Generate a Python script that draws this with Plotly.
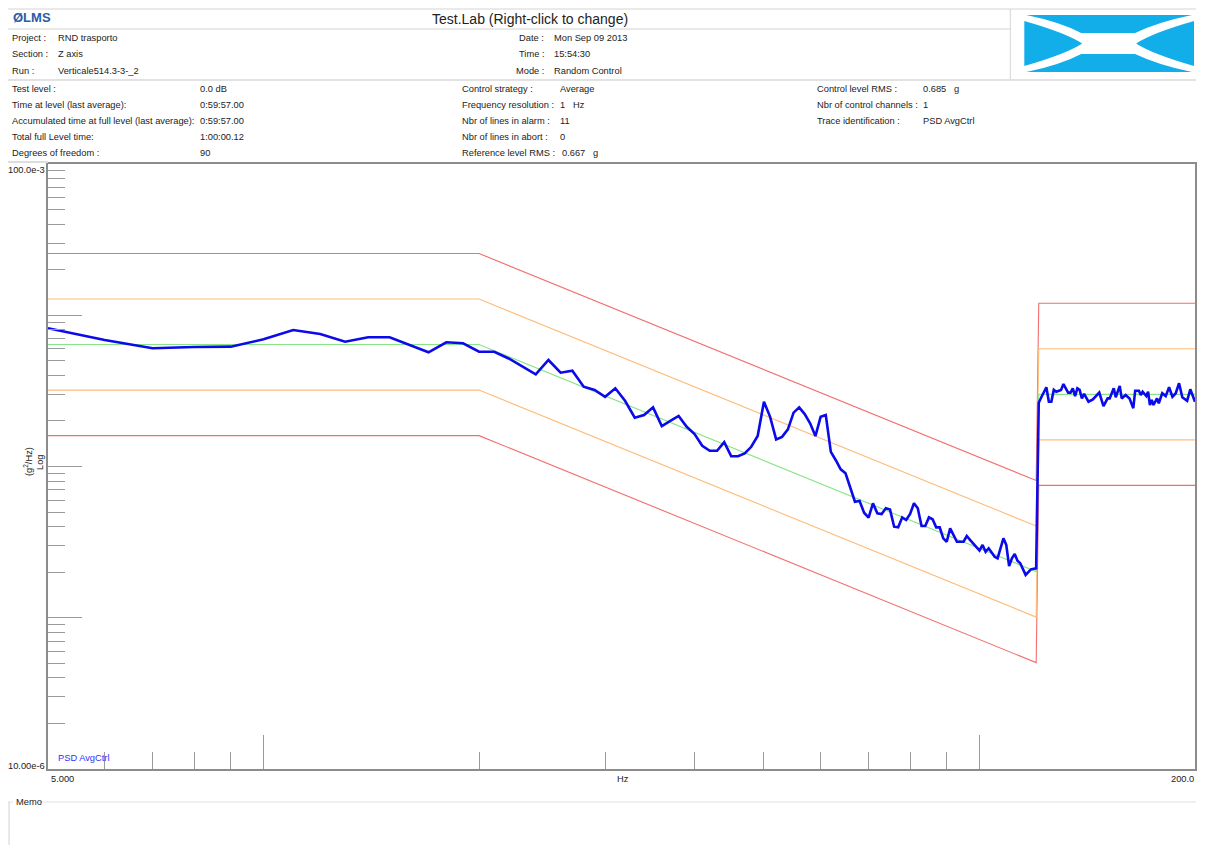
import plotly.graph_objects as go

# ---------------- data ----------------
# Reference profile and tolerance lines (breakpoints, Hz / g^2/Hz)
profile_freq = [5, 20, 120, 121, 200]
reference_psd = [6.4e-3, 6.4e-3, 2.02e-4, 3.0e-3, 3.0e-3]
alarm_high = [1.28e-2, 1.28e-2, 4.04e-4, 6.0e-3, 6.0e-3]
alarm_low = [3.2e-3, 3.2e-3, 1.01e-4, 1.5e-3, 1.5e-3]
abort_high = [2.56e-2, 2.56e-2, 8.08e-4, 1.2e-2, 1.2e-2]
abort_low = [1.6e-3, 1.6e-3, 5.05e-5, 7.5e-4, 7.5e-4]

# Control PSD (PSD AvgCtrl)
ctrl_freq = [5, 6, 7, 8, 9, 10, 11, 12, 13, 14, 15, 16, 17, 18, 19, 20,
             21, 22, 23, 24, 25, 26, 27, 28, 29, 30, 31, 32, 33, 34, 35, 36,
             37, 38, 39, 40, 41, 42, 43, 44, 45, 46, 47, 48, 49, 50, 51, 52,
             53, 54, 55, 56, 57, 58, 59, 60, 61, 62, 63, 64, 65, 66, 67, 68,
             69, 70, 71, 72, 73, 74, 75, 76, 77, 78, 79, 80, 81, 82, 83, 84,
             85, 86, 87, 88, 89, 90, 91, 92, 93, 95, 96, 97, 99, 100, 101, 102,
             103, 105, 106, 108, 109, 110, 111, 112, 113, 114, 116, 118, 120,
             121, 122, 124, 125, 126, 127, 128, 130, 131, 133, 134, 135, 136,
             137, 138, 139, 140, 142, 144, 147, 149, 151, 152, 154, 155, 157,
             158, 160, 162, 164, 165, 167, 168, 169, 171, 172, 173, 174, 175,
             177, 178, 180, 182, 184, 186, 188, 190, 192, 195, 197, 200]
ctrl_psd = [8.20e-3, 6.86e-3, 6.05e-3, 6.17e-3, 6.20e-3, 6.93e-3, 7.99e-3, 7.52e-3,
            6.68e-3, 7.15e-3, 7.15e-3, 6.36e-3, 5.69e-3, 6.63e-3, 6.53e-3, 5.74e-3,
            5.74e-3, 5.18e-3, 4.58e-3, 4.07e-3, 5.06e-3, 4.17e-3, 4.30e-3, 3.37e-3,
            3.21e-3, 2.89e-3, 3.29e-3, 2.71e-3, 2.10e-3, 2.19e-3, 2.46e-3, 1.85e-3,
            2.00e-3, 2.16e-3, 1.83e-3, 1.64e-3, 1.37e-3, 1.27e-3, 1.27e-3, 1.45e-3,
            1.17e-3, 1.17e-3, 1.22e-3, 1.35e-3, 1.59e-3, 2.68e-3, 2.13e-3, 1.51e-3,
            1.57e-3, 1.76e-3, 2.27e-3, 2.46e-3, 2.22e-3, 1.93e-3, 1.59e-3, 2.13e-3,
            2.19e-3, 1.25e-3, 1.10e-3, 9.58e-4, 9.02e-4, 7.32e-4, 5.85e-4, 5.91e-4,
            4.95e-4, 4.59e-4, 5.71e-4, 4.90e-4, 4.85e-4, 5.29e-4, 5.19e-4, 4.00e-4,
            3.96e-4, 4.61e-4, 4.43e-4, 4.85e-4, 5.71e-4, 5.29e-4, 4.04e-4, 4.04e-4,
            4.61e-4, 4.48e-4, 3.96e-4, 3.96e-4, 3.35e-4, 3.18e-4, 3.90e-4, 3.52e-4,
            3.18e-4, 3.18e-4, 3.47e-4, 3.27e-4, 2.95e-4, 2.78e-4, 3.03e-4, 2.73e-4,
            2.88e-4, 2.53e-4, 2.47e-4, 3.35e-4, 3.03e-4, 2.20e-4, 2.47e-4, 2.64e-4,
            2.38e-4, 2.29e-4, 1.92e-4, 2.09e-4, 2.12e-4,
            2.64e-3, 2.87e-3, 3.34e-3, 2.68e-3, 2.68e-3, 3.21e-3, 3.12e-3, 3.21e-3,
            3.51e-3, 3.08e-3, 3.08e-3, 3.29e-3, 2.92e-3, 3.29e-3, 3.21e-3, 2.82e-3,
            3.02e-3, 2.68e-3, 2.78e-3, 3.08e-3, 2.51e-3, 2.82e-3, 2.82e-3, 3.29e-3,
            2.87e-3, 3.41e-3, 2.82e-3, 2.97e-3, 2.82e-3, 2.43e-3, 3.17e-3, 3.17e-3,
            2.97e-3, 3.12e-3, 2.92e-3, 3.12e-3, 2.55e-3, 2.75e-3, 2.55e-3, 2.82e-3,
            2.62e-3, 3.05e-3, 2.92e-3, 3.34e-3, 2.89e-3, 3.05e-3, 3.55e-3, 2.87e-3,
            2.72e-3, 3.24e-3, 2.68e-3]

x_major_ticks = [10, 100]
x_minor_ticks = [6, 7, 8, 9, 20, 30, 40, 50, 60, 70, 80, 90]
y_major_ticks = [1e-4, 1e-3, 1e-2]
y_minor_ticks = [m * 10.0 ** e for e in (-5, -4, -3, -2) for m in range(2, 10)]

header_left = [("Project :", "RND trasporto"), ("Section :", "Z axis"),
               ("Run :", "Verticale514.3-3-_2")]
header_mid = [("Date :", "Mon Sep 09 2013"), ("Time :", "15:54:30"),
              ("Mode :", "Random Control")]
info_col1 = [("Test level :", "0.0 dB"),
             ("Time at level (last average):", "0:59:57.00"),
             ("Accumulated time at full level (last average):", "0:59:57.00"),
             ("Total full Level time:", "1:00:00.12"),
             ("Degrees of freedom :", "90")]
info_col2 = [("Control strategy :", "Average"),
             ("Frequency resolution :", "1   Hz"),
             ("Nbr of lines in alarm :", "11"),
             ("Nbr of lines in abort :", "0"),
             ("Reference level RMS :", "0.667   g")]
info_col3 = [("Control level RMS :", "0.685   g"),
             ("Nbr of control channels :", "1"),
             ("Trace identification :", "PSD AvgCtrl")]

# ---------------- layout helpers (page pixel -> paper) ----------------
PAGE_W, PAGE_H = 1206, 853
OFF = 8                                   # default body margin of the page
W, H = PAGE_W - 2 * OFF, PAGE_H - 2 * OFF  # page stays exactly 1206 x 853
L, R, T, B = 48, 1197, 164, 769           # plot area in page pixels
RIGHT_EDGE = OFF + W                      # last visible page pixel of the figure


def px(x):
    return (x - L) / (R - L)


def py(y):
    return (B - y) / (B - T)


FONT = "Liberation Sans, Arial, Helvetica, sans-serif"
FS = 9.3
TXT = "#222222"

fig = go.Figure()

red = "rgb(242,110,110)"
orange = "rgb(255,188,122)"
green = "rgb(135,228,135)"
for series, col in [(abort_high, red), (abort_low, red),
                    (alarm_high, orange), (alarm_low, orange),
                    (reference_psd, green)]:
    fig.add_trace(go.Scatter(x=profile_freq, y=series, mode="lines",
                             line=dict(color=col, width=1.1), hoverinfo="skip",
                             showlegend=False))
fig.add_trace(go.Scatter(x=ctrl_freq, y=ctrl_psd, mode="lines", name="PSD AvgCtrl",
                         line=dict(color="rgb(10,10,235)", width=2.6),
                         showlegend=False))

annotations = []


def text(x, y, s, size=FS, color=TXT, anchor="left", angle=0):
    annotations.append(dict(x=px(x), y=py(y), xref="paper", yref="paper", text=s,
                            showarrow=False, xanchor=anchor, yanchor="middle",
                            textangle=angle, borderpad=0,
                            font=dict(family=FONT, size=size, color=color)))


# header
text(12, 18, "<b>ØLMS</b>", size=13, color="#2a5ca8")
text(531, 19, "Test.Lab (Right-click to change)", size=14, anchor="center")
for i, (lab, val) in enumerate(header_left):
    yy = 38 + i * 16.5
    text(11, yy, lab)
    text(57, yy, val)
for i, (lab, val) in enumerate(header_mid):
    yy = 38 + i * 16.5
    text(546, yy, lab, anchor="right")
    text(554, yy, val)
for i, (lab, val) in enumerate(info_col1):
    yy = 89 + i * 16
    text(11, yy, lab)
    text(199, yy, val)
for i, (lab, val) in enumerate(info_col2):
    yy = 89 + i * 16
    text(462, yy, lab)
    text(560 if i < 4 else 562, yy, val)
for i, (lab, val) in enumerate(info_col3):
    yy = 89 + i * 16
    text(817, yy, lab)
    text(924, yy, val)

# axes texts
text(46, 170, "100.0e-3", anchor="right")
text(46, 766, "10.00e-6", anchor="right")
text(28, 462, "(g<sup>2</sup>/Hz)", angle=-90, anchor="center")
text(40, 462, "Log", angle=-90, anchor="center")
text(63, 779, "5.000", anchor="center")
text(624, 779, "Hz", anchor="center")
text(RIGHT_EDGE - 1, 779, "200.0", anchor="right")
text(57, 758, "PSD AvgCtrl", color="#3030ff")
text(15, 802, "Memo")

shapes = []
LG = "#d4d4d4"


def hline(x0, x1, y, color=LG, w=1):
    shapes.append(dict(type="line", xref="paper", yref="paper", x0=px(x0), x1=px(x1),
                       y0=py(y), y1=py(y), line=dict(color=color, width=w), layer="above"))


def vline(x, y0, y1, color=LG, w=1):
    shapes.append(dict(type="line", xref="paper", yref="paper", x0=px(x), x1=px(x),
                       y0=py(y0), y1=py(y1), line=dict(color=color, width=w), layer="above"))


hline(8, RIGHT_EDGE, 9)
hline(8, 1012, 29)
vline(1012, 9, 79)
hline(8, RIGHT_EDGE, 80, color="#e2e2e2", w=2)
hline(8, 48, 162, color="#dddddd", w=2)
hline(38, RIGHT_EDGE, 802, color="#e0e0e0")
hline(8, 13, 802, color="#e0e0e0")
vline(9, 802, 853, color="#d0d0d0")


def P(x, y):
    return f"{px(x):.5f},{py(y):.5f}"


logo = "#12aeea"
paths = [
    f"M{P(1028,15)} L{P(1194,15)} Q{P(1160,22)} {P(1137,33)} L{P(1083,33)} Q{P(1062,22)} {P(1028,15)} Z",
    f"M{P(1028,72)} L{P(1194,72)} Q{P(1160,65)} {P(1137,54)} L{P(1083,54)} Q{P(1062,65)} {P(1028,72)} Z",
    f"M{P(1026,21)} Q{P(1068,33)} {P(1084,43.5)} Q{P(1068,54)} {P(1026,66)} Z",
    f"M{P(1196,21)} Q{P(1154,33)} {P(1138,43.5)} Q{P(1154,54)} {P(1196,66)} Z",
]
for p in paths:
    shapes.append(dict(type="path", xref="paper", yref="paper", path=p,
                       fillcolor=logo, line=dict(width=0), layer="above"))

fig.update_layout(
    width=W, height=H, autosize=False,
    margin=dict(l=L - OFF, r=RIGHT_EDGE - R, t=T - OFF, b=(OFF + H) - B, pad=0),
    paper_bgcolor="white", plot_bgcolor="white",
    showlegend=False,
    font=dict(family=FONT, size=FS, color=TXT),
    annotations=annotations, shapes=shapes,
    xaxis=dict(type="log", range=[0.69897, 2.30103], showgrid=False, zeroline=False,
               showline=True, linecolor="#8c8c8c", linewidth=2, mirror=True,
               ticks="inside", tickmode="array", tickvals=x_major_ticks, ticklen=34,
               tickcolor="#9a9a9a", tickwidth=1, showticklabels=False,
               minor=dict(tickmode="array", tickvals=x_minor_ticks, ticks="inside",
                          ticklen=17, tickcolor="#9a9a9a", tickwidth=1, showgrid=False)),
    yaxis=dict(type="log", range=[-5, -1], showgrid=False, zeroline=False,
               showline=True, linecolor="#8c8c8c", linewidth=2, mirror=True,
               ticks="inside", tickmode="array", tickvals=y_major_ticks, ticklen=34,
               tickcolor="#9a9a9a", tickwidth=1, showticklabels=False,
               minor=dict(tickmode="array", tickvals=y_minor_ticks, ticks="inside",
                          ticklen=17, tickcolor="#9a9a9a", tickwidth=1, showgrid=False)),
)

fig.write_html("out.html")
